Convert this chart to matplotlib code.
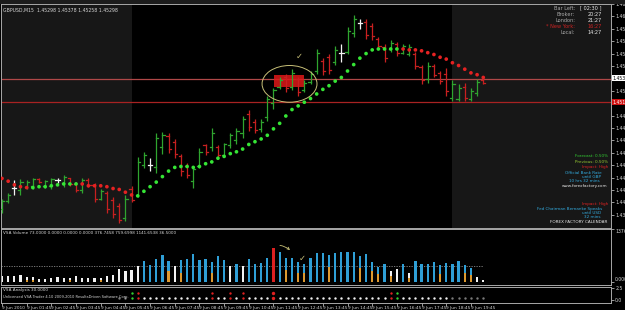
import numpy as np
import pandas as pd
import matplotlib
matplotlib.use('Agg')
import matplotlib.pyplot as plt
from matplotlib.patches import Ellipse, Rectangle
from matplotlib import transforms

plt.rcParams['font.family'] = ['DejaVu Sans']

#%% data: GBPUSD M15, 9 Jun 2010
bar_times = pd.date_range('2010-06-09 00:45', periods=79, freq='15min')

highs = [1.4406, 1.4412, 1.4426, 1.4427, 1.4426, 1.4429, 1.4428, 1.4426, 1.4429, 1.4429,
         1.4432, 1.4429, 1.4424, 1.4428, 1.4428, 1.4423, 1.4416, 1.4414, 1.4408, 1.4401,
         1.4410, 1.4420, 1.4451, 1.4457, 1.4450, 1.4478, 1.4479, 1.4477, 1.4471, 1.4455,
         1.4445, 1.4442, 1.4461, 1.4466, 1.4483, 1.4464, 1.4467, 1.4478, 1.4483, 1.4496,
         1.4503, 1.4493, 1.4493, 1.4518, 1.4527, 1.4538, 1.4542, 1.4547, 1.4539, 1.4535,
         1.4545, 1.4569, 1.4559, 1.4564, 1.4572, 1.4574, 1.4593, 1.4606, 1.4602, 1.4602,
         1.4597, 1.4582, 1.4574, 1.4579, 1.4577, 1.4574, 1.4574, 1.4566, 1.4552, 1.4555,
         1.4553, 1.4545, 1.4548, 1.4535, 1.4531, 1.4532, 1.4526, 1.4536, 1.4537]
lows = [1.4390, 1.4401, 1.4410, 1.4410, 1.4416, 1.4417, 1.4423, 1.4418, 1.4417, 1.4423,
        1.4419, 1.4420, 1.4413, 1.4412, 1.4419, 1.4402, 1.4404, 1.4390, 1.4385, 1.4379,
        1.4382, 1.4402, 1.4408, 1.4439, 1.4436, 1.4434, 1.4455, 1.4456, 1.4450, 1.4431,
        1.4429, 1.4418, 1.4439, 1.4454, 1.4458, 1.4451, 1.4451, 1.4461, 1.4466, 1.4472,
        1.4480, 1.4477, 1.4479, 1.4491, 1.4504, 1.4525, 1.4522, 1.4524, 1.4518, 1.4522,
        1.4531, 1.4542, 1.4541, 1.4542, 1.4552, 1.4555, 1.4563, 1.4582, 1.4591, 1.4580,
        1.4579, 1.4569, 1.4555, 1.4566, 1.4561, 1.4563, 1.4561, 1.4547, 1.4531, 1.4532,
        1.4538, 1.4531, 1.4518, 1.4512, 1.4512, 1.4512, 1.4512, 1.4518, 1.4531]
opens = [1.4395, 1.4403, 1.4418, 1.4415, 1.4419, 1.4420, 1.4427, 1.4420, 1.4420, 1.4426,
         1.4423, 1.4428, 1.4422, 1.4415, 1.4426, 1.4421, 1.4406, 1.4412, 1.4404, 1.4398,
         1.4385, 1.4417, 1.4410, 1.4443, 1.4443, 1.4440, 1.4462, 1.4474, 1.4468, 1.4452,
         1.4442, 1.4425, 1.4442, 1.4464, 1.4462, 1.4462, 1.4454, 1.4464, 1.4470, 1.4478,
         1.4498, 1.4490, 1.4482, 1.4495, 1.4510, 1.4528, 1.4538, 1.4528, 1.4536, 1.4524,
         1.4533, 1.4545, 1.4556, 1.4560, 1.4555, 1.4565, 1.4566, 1.4586, 1.4597, 1.4598,
         1.4594, 1.4580, 1.4571, 1.4569, 1.4574, 1.4565, 1.4564, 1.4563, 1.4549, 1.4536,
         1.4550, 1.4543, 1.4542, 1.4516, 1.4515, 1.4528, 1.4515, 1.4521, 1.4535]
closes = [1.4403, 1.4410, 1.4418, 1.4424, 1.4424, 1.4427, 1.4424, 1.4425, 1.4427, 1.4426,
          1.4430, 1.4422, 1.4415, 1.4426, 1.4421, 1.4406, 1.4414, 1.4395, 1.4389, 1.4383,
          1.4406, 1.4405, 1.4446, 1.4453, 1.4443, 1.4472, 1.4475, 1.4460, 1.4455, 1.4436,
          1.4432, 1.4438, 1.4457, 1.4457, 1.4478, 1.4454, 1.4465, 1.4475, 1.4480, 1.4493,
          1.4484, 1.4481, 1.4490, 1.4514, 1.4524, 1.4535, 1.4526, 1.4543, 1.4522, 1.4532,
          1.4542, 1.4565, 1.4545, 1.4546, 1.4568, 1.4565, 1.4589, 1.4602, 1.4597, 1.4584,
          1.4583, 1.4572, 1.4559, 1.4576, 1.4565, 1.4572, 1.4571, 1.4551, 1.4535, 1.4551,
          1.4541, 1.4534, 1.4523, 1.4531, 1.4527, 1.4516, 1.4523, 1.4533, 1.4532]

# parabolic SAR
sar = [1.4428, 1.4425, 1.4421, 1.4419, 1.4418, 1.4418, 1.4419, 1.4419, 1.4420, 1.4421,
       1.4422, 1.4422, 1.4422, 1.4422, 1.4420, 1.4420, 1.4420, 1.4419, 1.4417, 1.4416,
       1.4413, 1.4410, 1.4409, 1.4414, 1.4419, 1.4424, 1.4430, 1.4436, 1.4440, 1.4441,
       1.4441, 1.4440, 1.4441, 1.4444, 1.4446, 1.4450, 1.4452, 1.4455, 1.4457, 1.4460,
       1.4465, 1.4468, 1.4471, 1.4475, 1.4482, 1.4488, 1.4496, 1.4503, 1.4507, 1.4511,
       1.4515, 1.4520, 1.4525, 1.4529, 1.4534, 1.4538, 1.4545, 1.4552, 1.4559, 1.4564,
       1.4568, 1.4569, 1.4569, 1.4569, 1.4569, 1.4569, 1.4568, 1.4568, 1.4567, 1.4565,
       1.4563, 1.4560, 1.4558, 1.4554, 1.4551, 1.4547, 1.4543, 1.4541, 1.4538]
sar_side = 'RRRRR' + 'GGGGGGGG' + 'RRRRRRRRR' + 'G' * 43 + 'R' * 14

# VSA volume
volume = [146, 146, 146, 189, 129, 120, 86, 77, 103, 129,
          103, 103, 163, 103, 103, 103, 103, 146, 172, 335,
          275, 301, 404, 533, 447, 602, 705, 550, 404, 576,
          602, 731, 576, 602, 516, 688, 576, 404, 464, 404,
          602, 464, 490, 619, 894, 791, 636, 619, 507, 464,
          619, 765, 748, 705, 748, 774, 791, 774, 688, 722,
          516, 396, 464, 292, 344, 464, 232, 533, 464, 464,
          516, 430, 490, 464, 550, 430, 361, 129, 60]
vol_orange = [0, 0, 0, 0, 50, 50, 0, 0, 0, 0,
              0, 40, 0, 0, 0, 0, 40, 0, 0, 0,
              0, 0, 0, 0, 0, 0, 0, 275, 0, 230,
              0, 0, 0, 0, 232, 0, 0, 0, 0, 0,
              0, 0, 0, 0, 0, 0, 318, 0, 232, 232,
              0, 0, 0, 378, 0, 0, 0, 0, 361, 0,
              275, 206, 0, 146, 0, 0, 100, 0, 0, 0,
              0, 206, 0, 0, 0, 232, 189, 0, 0]
vol_kind = 'w' * 23 + 'b' * 5 + 'w' + 'b' * 8 + 'w' + 'b' + 'w' + 'b' * 4 + 'r' + 'b' * 18 + 'ww' + 'b' + 'w' + 'b' * 10 + 'ww'
vol_avg = 421
vol_max = 1376.42

# VSA analysis signals
signals = '.' * 19 + 'dd' + 'gr' + 'w' * 11 + 'r' + 'ww' + 'r' + 'w' + 'r' + 'wwww' + 'R' + 'w' * 18 + 'rg' + 'w' * 8 + 'd' * 6

hlines = [1.4536, 1.4511]
bid_price = 1.4537
price_ticks = [1.46180 - 0.00135 * k for k in range(19)]
shaded = [(-1, 21), (73, 100)]

#%% layout
W, H = 625, 310
fig = plt.figure(figsize=(W / 100, H / 100), dpi=100, facecolor='black')

def box(x0, y0, x1, y1):
    return [x0 / W, 1 - y1 / H, (x1 - x0) / W, (y1 - y0) / H]

def ftext(x, y, s, color, ha='left', size=3.3):
    fig.text(x / W, 1 - y / H, s, color=color, ha=ha, va='center', fontsize=size)

# dark title strip along the top
fig.add_artist(Rectangle((0, 1 - 4 / H), 1, 4 / H, transform=fig.transFigure, color='#1c1c1c', lw=0))

ax = fig.add_axes(box(1, 4, 611, 228))
axv = fig.add_axes(box(1, 229, 611, 285), sharex=ax)
axa = fig.add_axes(box(1, 287, 611, 303), sharex=ax)

n = len(highs)
x = np.arange(n)
xlim = (-0.16, 98.7)

for a in (ax, axv, axa):
    a.set_facecolor('black')
    for s in a.spines.values():
        s.set_color('#a8a8a8')
        s.set_linewidth(0.7)
    a.yaxis.tick_right()
    a.tick_params(axis='y', colors='#d8d8d8', labelsize=3.3, length=2, width=0.5, pad=1)
    a.set_xlim(xlim)

# main chart
ax.set_ylim(1.4374, 1.46159)
for lo, hi in shaded:
    ax.axvspan(lo, hi, color='#171717', lw=0, zorder=0)
# the bid / line boxes cover the regular labels next to them
shown_ticks = [p for p in price_ticks
               if abs(p - bid_price) > 0.0006 and abs(p - hlines[1]) > 0.0006 and p > 1.4380]
ax.set_yticks(shown_ticks)
ax.set_yticklabels(['%.5f' % p for p in shown_ticks])
ax.tick_params(axis='x', bottom=False, labelbottom=False)

for p, c in zip(hlines, ['#b04848', '#a82222']):
    ax.axhline(p, color=c, lw=0.9, zorder=1)

ax.add_patch(Rectangle((44.1, 1.4528), 4.8, 0.0013, color='#e01818', alpha=0.85, lw=0, zorder=1))

for i in range(n):
    if opens[i] == closes[i]:
        col = '#f4f4f4'
    elif closes[i] > opens[i]:
        col = '#2fa52f'
    else:
        col = '#c82020'
    ax.plot([i, i], [lows[i], highs[i]], color=col, lw=0.9, zorder=3, solid_capstyle='butt')
    ax.plot([i - 0.35, i], [opens[i], opens[i]], color=col, lw=0.9, zorder=3)
    ax.plot([i, i + 0.35], [closes[i], closes[i]], color=col, lw=0.9, zorder=3)

sar_col = ['#35e535' if s == 'G' else '#e52222' for s in sar_side]
ax.scatter(x, sar, s=7, c=sar_col, marker='o', lw=0, zorder=4)

ax.add_patch(Ellipse((46.6, 1.4531), 8.9, 0.0040, fill=False, ec='#c8c078', lw=0.7, zorder=5))
ax.text(48.2, 1.4561, '\u2713', color='#c8c078', fontsize=6, ha='center', va='center', zorder=5)

tr = transforms.blended_transform_factory(ax.transAxes, ax.transData)
ax.text(1.002, bid_price, '%.5f' % bid_price, transform=tr, fontsize=3.3,
        color='black', va='center', bbox=dict(fc='white', ec='none', pad=0.4), clip_on=False)
ax.text(1.002, hlines[1], '%.5f' % hlines[1], transform=tr, fontsize=3.3,
        color='white', va='center', bbox=dict(fc='#d01010', ec='none', pad=0.4), clip_on=False)

ax.text(0.003, 0.985, 'GBPUSD,M15  1.45298 1.45378 1.45258 1.45298', transform=ax.transAxes,
        color='#d8d8d8', fontsize=3.3, va='top')

# volume panel
axv.set_ylim(-78, vol_max)
kind_col = {'w': '#f2f2f2', 'b': '#2f9fd6', 'r': '#dd2020'}
axv.bar(x, volume, width=0.36, color=[kind_col[k] for k in vol_kind], lw=0, zorder=2)
axv.bar(x, vol_orange, width=0.36, color='#dd9a30', lw=0, zorder=3)
axv.plot([xlim[0], n - 1], [vol_avg, vol_avg], color='#8a8a8a', lw=0.6, ls=(0, (1.5, 1.5)), zorder=1)
axv.set_yticks([0, vol_max])
axv.set_yticklabels(['0.00000', '1376.42'])
axv.get_yticklabels()[1].set_va('top')
axv.get_yticklabels()[0].set_va('bottom')
axv.tick_params(axis='x', bottom=False, labelbottom=False)
axv.text(0.003, 0.97, 'VSA Volume 73.0000 0.0000 0.0000 0.0000 376.7458 759.6998 1141.6538 36.5000',
         transform=axv.transAxes, color='#d8d8d8', fontsize=3.0, va='top')
axv.annotate('', xy=(47.0, 779), xytext=(44.6, 960),
             arrowprops=dict(arrowstyle='->', color='#c8c078', lw=0.6,
                             connectionstyle='arc3,rad=-0.2', mutation_scale=4))
axv.text(48.6, 600, '\u2713', color='#c8c078', fontsize=6, ha='center', va='center')

# analysis panel
axa.set_ylim(-0.625, 2.71)
sig_col = {'w': '#f2f2f2', 'd': '#7a7a7a', 'r': '#e02020', 'R': '#e02020', 'g': '#30d030'}
for i, s in enumerate(signals):
    if s == '.':
        continue
    sz = 6 if s == 'R' else 3
    axa.scatter(i, 0.5, s=sz, color=sig_col[s], lw=0, zorder=3)
    if s in 'rRg':
        axa.scatter(i, 1.5, s=sz, color=sig_col[s], lw=0, zorder=3)
axa.set_yticks([0, 2.5])
axa.set_yticklabels(['0.0', '2.5'])
axa.text(0.003, 0.93, 'VSA Analysis 30.0000', transform=axa.transAxes, color='#d8d8d8',
         fontsize=3.0, va='top')
axa.text(0.003, 0.35, 'Unlicensed VSA Trader 4.10 2009-2010 ResultsDriven Software Corp.',
         transform=axa.transAxes, color='#d8d8d8', fontsize=2.6, va='center')

tick_pos = list(range(0, n, 4))
tick_lab = ['9 Jun 2010' if i == 0 else '%d %s' % (bar_times[i].day, bar_times[i].strftime('%b %H:%M'))
            for i in tick_pos]
axa.set_xticks(tick_pos)
axa.set_xticklabels(tick_lab, ha='left')
axa.tick_params(axis='x', colors='#d8d8d8', labelsize=3.1, length=2, width=0.5, pad=0.5)

# info panel, top right
for j, (lab, val) in enumerate([('Bar Left:', '[ 02:30 ]'), ('Broker:', '20:27'), ('London:', '21:27'),
                                ('* New York:', '16:27'), ('Local:', '14:27')]):
    c1 = '#cc2222' if 'New York' in lab else '#a8a8a8'
    c2 = '#cc2222' if 'New York' in lab else '#e8e8e8'
    ftext(575, 8 + 6 * j, lab, c1, ha='right', size=3.6)
    ftext(602, 8 + 6 * j, val, c2, ha='right', size=3.6)

# news panel
news = [(156, 'Forecast: 0.50%', '#33cc33', 608),
        (162, 'Previous: 0.50%', '#99cc33', 608),
        (167, 'Impact: High', '#dd2222', 608),
        (173, 'Official Bank Rate', '#33aadd', 602),
        (177, 'until GBP', '#33aadd', 601),
        (181, '10 hrs 32 mins', '#33aadd', 600),
        (186, 'www.forexfactory.com', '#e8e8e8', 607),
        (204, 'Impact: High', '#dd2222', 608),
        (209, 'Fed Chairman Bernanke Speaks', '#33aadd', 602),
        (213, 'until USD', '#33aadd', 601),
        (217, '32 mins', '#33aadd', 600),
        (222, 'FOREX FACTORY CALENDAR', '#e8e8e8', 607)]
for y, s, c, xr in news:
    ftext(xr, y, s, c, ha='right', size=3.0)

plt.savefig('out.png', dpi=100, facecolor='black')
plt.close()
